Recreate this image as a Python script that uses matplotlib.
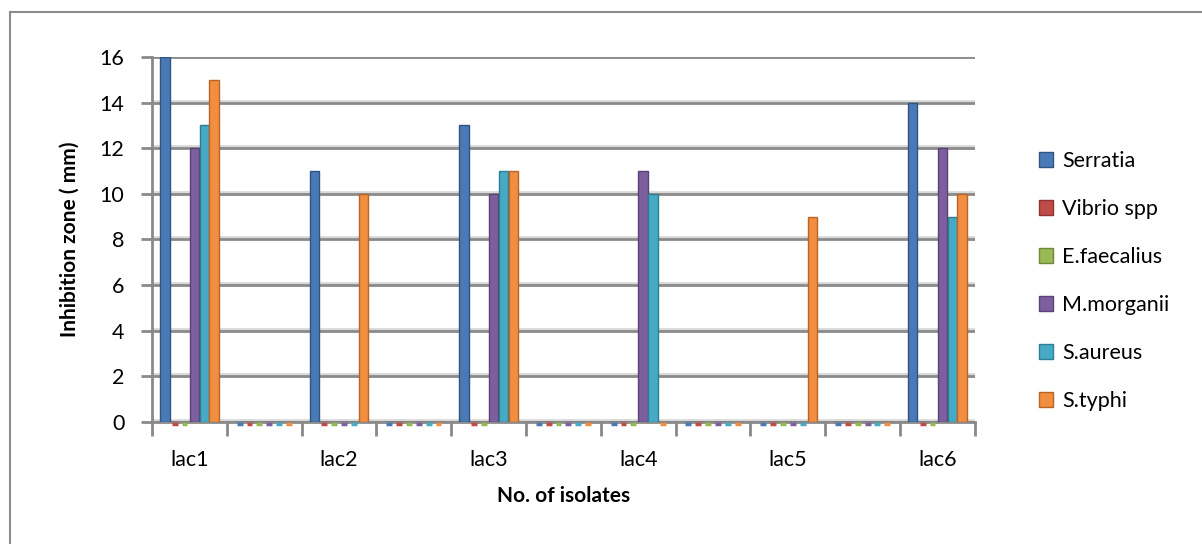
import matplotlib.pyplot as plt
import matplotlib.patches as mpatches
import numpy as np

plt.rcParams['font.family'] = ['Lato', 'DejaVu Sans']

categories = ["lac1", "", "lac2", "", "lac3", "", "lac4", "", "lac5", "", "lac6"]
series_names = ["Serratia", "Vibrio spp", "E.faecalius", "M.morganii", "S.aureus", "S.typhi"]
serratia = [16, 0, 11, 0, 13, 0, 0, 0, 0, 0, 14]
vibrio = [0, 0, 0, 0, 0, 0, 0, 0, 0, 0, 0]
faecalius = [0, 0, 0, 0, 0, 0, 0, 0, 0, 0, 0]
morganii = [12, 0, 0, 0, 10, 0, 11, 0, 0, 0, 12]
aureus = [13, 0, 0, 0, 11, 0, 10, 0, 0, 0, 9]
typhi = [15, 0, 10, 0, 11, 0, 0, 0, 9, 0, 10]
y_ticks = [0, 2, 4, 6, 8, 10, 12, 14, 16]

values = [serratia, vibrio, faecalius, morganii, aureus, typhi]
colors = ["#4a7ab5", "#be4b48", "#98b954", "#7d5fa0", "#46aac4", "#f28e3f"]
edges = ["#2f5483", "#8c3331", "#6d8a3a", "#5a4177", "#2f7f93", "#b8652a"]

fig = plt.figure(figsize=(12.02, 5.44), dpi=100)
ax = fig.add_axes([0.1265, 0.2243, 0.811 - 0.1265, 0.8952 - 0.2243])

# outer chart border
fig.patches.append(mpatches.Rectangle((10 / 1202, -0.1), 1.2, 1 - 12 / 544 + 0.1,
                                      transform=fig.transFigure, fill=False,
                                      edgecolor="#8c8c8c", linewidth=1.5))

x = np.arange(len(categories))
n = len(values)
bw = 0.79 / n
for i, (name, vals) in enumerate(zip(series_names, values)):
    pos = x - 0.79 / 2 + bw * (i + 0.5)
    ax.bar(pos, vals, width=bw * 0.95, color=colors[i], edgecolor=edges[i],
           linewidth=1.0, label=name, zorder=3)
    # zero values show as a short coloured dash on the floor
    zero = [p for p, v in zip(pos, vals) if v == 0]
    ax.hlines([-0.08] * len(zero), [p - bw * 0.3 for p in zero],
              [p + bw * 0.3 for p in zero], colors=colors[i], linewidth=2.5,
              zorder=6, clip_on=False)

ax.set_xlim(-0.5, len(categories) - 0.5)
ax.set_ylim(0, 16)
ax.set_yticks(y_ticks)
ax.set_yticklabels([str(t) for t in y_ticks], fontsize=15.5)

# gridlines with a light shadow above them
for t in y_ticks:
    ax.axhline(t + 0.09, color="#d9d9d9", linewidth=2, zorder=1)
    ax.axhline(t, color="#8a8a8a", linewidth=2, zorder=2)

ax.set_xticks(x)
ax.set_xticklabels(categories, fontsize=15.5)
ax.tick_params(axis='x', length=0, pad=20)
ax.set_xticks(np.arange(-0.5, len(categories)), minor=True)
ax.tick_params(axis='x', which='minor', length=10, width=2, color="#8a8a8a", direction='out')
ax.tick_params(axis='y', length=8, width=2, color="#8a8a8a", pad=12)

for side in ["top", "right"]:
    ax.spines[side].set_visible(False)
ax.spines["left"].set_color("#8a8a8a")
ax.spines["left"].set_linewidth(2)
ax.spines["bottom"].set_color("#8a8a8a")
ax.spines["bottom"].set_linewidth(2)
ax.spines["left"].set_zorder(5)

ax.set_ylabel("Inhibition zone ( mm)", fontsize=15, fontweight='bold', labelpad=14)
ax.set_xlabel("No. of isolates", fontsize=15, fontweight='bold', labelpad=12)

ax.legend(loc='center left', bbox_to_anchor=(1.055, 0.386), frameon=False, fontsize=15.5,
          handlelength=0.65, handleheight=0.65, handletextpad=0.4, labelspacing=1.3)

fig.savefig("out.png", dpi=100)
